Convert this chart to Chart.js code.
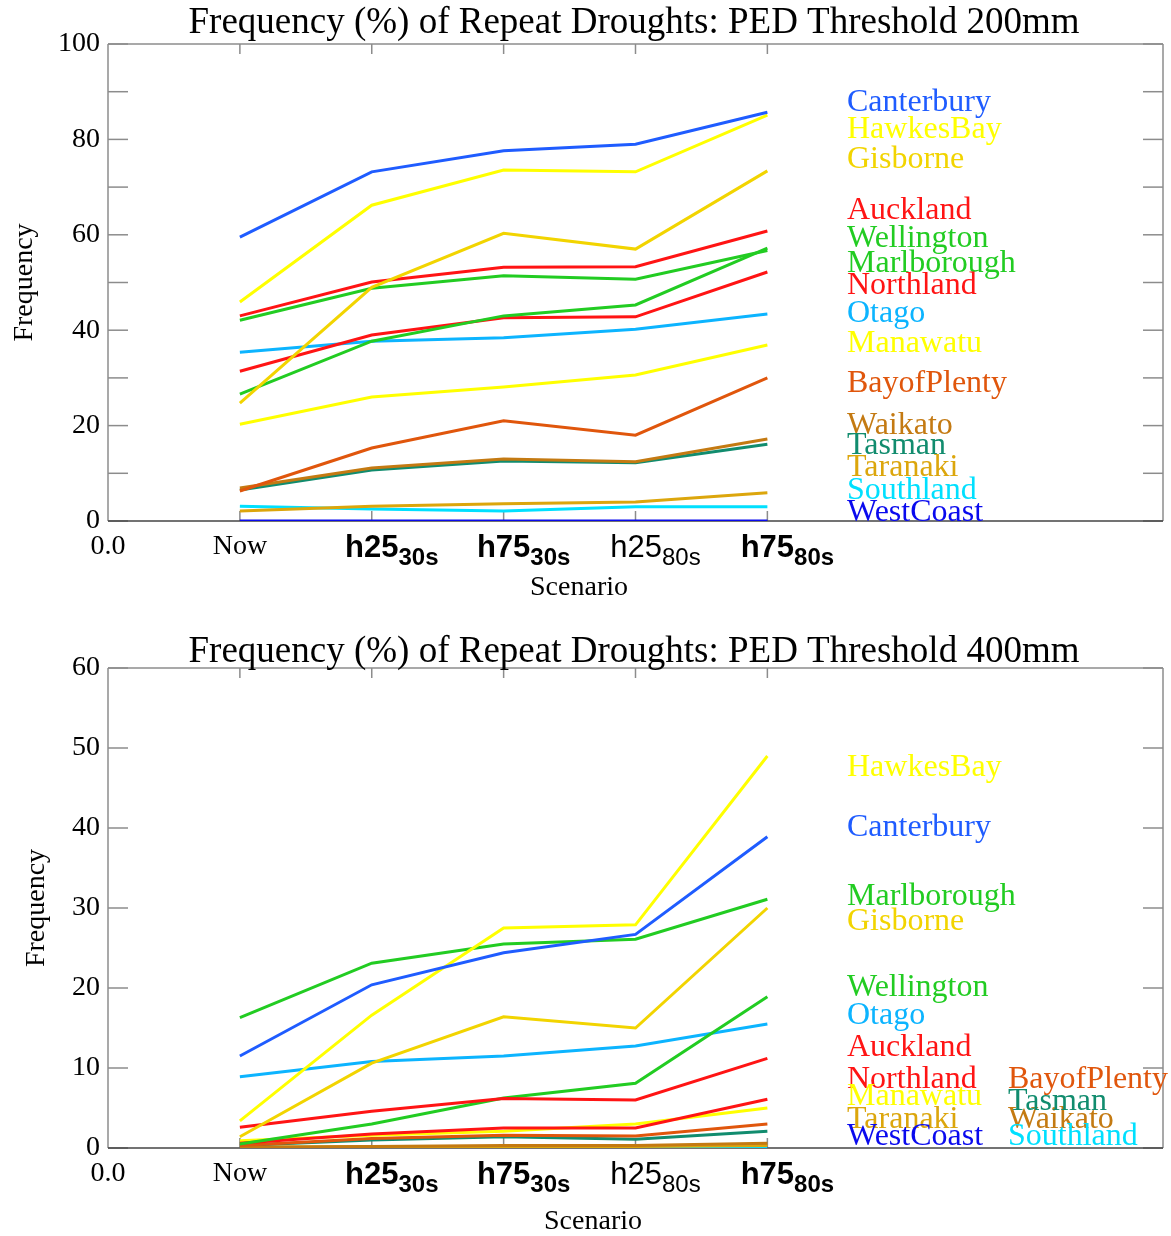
<!DOCTYPE html>
<html><head><meta charset="utf-8">
<script src="https://cdn.jsdelivr.net/npm/chart.js@4.4.1/dist/chart.umd.min.js"></script>
<style>
html,body{margin:0;padding:0;background:#fff;}
#wrap{position:relative;width:1171px;height:1236px;overflow:hidden;}
canvas{position:absolute;left:0;}
</style></head><body>
<div id="wrap">
<canvas id="c1" width="1171" height="615" style="top:0"></canvas>
<canvas id="c2" width="1171" height="621" style="top:615px"></canvas>
</div>
<script>
// ---------- categories ----------
const scenarios = ['Now', 'h25', 'h75', 'h25', 'h75'];
const scenarioSubs = ['', '30s', '30s', '80s', '80s'];
const scenarioBold = [false, true, true, false, true];
const scenarioX = [1, 2, 3, 4, 5];
const originLabel = '0.0';

const regions = ['Canterbury','HawkesBay','Gisborne','Auckland','Wellington','Marlborough','Northland','Otago','Manawatu','BayofPlenty','Waikato','Tasman','Taranaki','Southland','WestCoast'];
const regionColors = ['#1f5cff','#ffff00','#f2d400','#ff1414','#22cc22','#22cc22','#ff1414','#0cb4ff','#ffff00','#e0560c','#c47a12','#118c6e','#dca60c','#00e0ff','#0a0aee'];

// ---------- PED threshold 200mm ----------
const canterbury200  = [59.5, 73.2, 77.6, 79.0, 85.7];
const hawkesBay200   = [45.9, 66.2, 73.6, 73.2, 85.1];
const gisborne200    = [24.7, 49.0, 60.3, 57.0, 73.4];
const auckland200    = [43.0, 50.1, 53.2, 53.3, 60.8];
const wellington200  = [42.1, 48.8, 51.4, 50.7, 56.7];
const marlborough200 = [26.6, 37.7, 43.0, 45.3, 57.2];
const northland200   = [31.4, 39.0, 42.6, 42.8, 52.2];
const otago200       = [35.4, 37.7, 38.4, 40.2, 43.4];
const manawatu200    = [20.3, 26.0, 28.1, 30.6, 36.9];
const bayOfPlenty200 = [6.3, 15.3, 21.0, 18.0, 30.0];
const waikato200     = [6.9, 11.1, 13.0, 12.4, 17.2];
const tasman200      = [6.5, 10.7, 12.6, 12.2, 16.1];
const taranaki200    = [2.1, 3.1, 3.6, 4.0, 5.9];
const southland200   = [3.1, 2.5, 2.1, 3.0, 3.0];
const westCoast200   = [0, 0, 0, 0, 0];

// ---------- PED threshold 400mm ----------
const canterbury400  = [11.5, 20.4, 24.4, 26.7, 38.9];
const hawkesBay400   = [3.4, 16.6, 27.5, 27.9, 49.0];
const gisborne400    = [1.4, 10.6, 16.4, 15.0, 30.0];
const auckland400    = [2.6, 4.6, 6.2, 6.0, 11.2];
const wellington400  = [0.5, 3.0, 6.25, 8.1, 18.9];
const marlborough400 = [16.3, 23.1, 25.5, 26.1, 31.1];
const northland400   = [0.6, 1.75, 2.5, 2.5, 6.1];
const otago400       = [8.9, 10.8, 11.5, 12.75, 15.5];
const manawatu400    = [0.9, 1.6, 2.1, 3.0, 5.0];
const bayOfPlenty400 = [0.3, 1.2, 1.6, 1.5, 3.0];
const waikato400     = [0.1, 0.2, 0.3, 0.3, 0.6];
const tasman400      = [0.3, 1.0, 1.4, 1.1, 2.1];
const taranaki400    = [0.1, 0.2, 0.2, 0.2, 0.3];
const southland400   = [0, 0, 0, 0, 0];
const westCoast400   = [0, 0, 0, 0, 0];

// ---------- label anchors (value units) ----------
const labelY200 = [87.8, 82.0, 75.7, 65.0, 59.3, 53.9, 49.3, 43.4, 37.1, 28.9, 20.1, 15.9, 11.1, 6.3, 1.7];
const labelY400 = [40.1, 47.5, 28.25, 12.6, 20.0, 31.4, 8.5, 16.6, 6.4, 8.5, 3.5, 5.75, 3.5, 1.4, 1.4];
const labelCol400 = [0,0,0,0,0,0,0,0,0,1,1,1,0,1,0];

const series200 = [canterbury200, hawkesBay200, gisborne200, auckland200, wellington200, marlborough200, northland200, otago200, manawatu200, bayOfPlenty200, waikato200, tasman200, taranaki200, southland200, westCoast200];
const series400 = [canterbury400, hawkesBay400, gisborne400, auckland400, wellington400, marlborough400, northland400, otago400, manawatu400, bayOfPlenty400, waikato400, tasman400, taranaki400, southland400, westCoast400];

const SERIF = '"Liberation Serif", "Times New Roman", serif';
const SANS = '"Liberation Sans", Arial, sans-serif';

function makeDatasets(series) {
  return regions.map((name, i) => ({
    label: name,
    data: series[i].map((v, k) => ({ x: scenarioX[k], y: v })),
    borderColor: regionColors[i],
    backgroundColor: regionColors[i],
    borderWidth: 3,
    pointRadius: 0,
    tension: 0,
    fill: false
  }));
}

function line(ctx, x1, y1, x2, y2) {
  ctx.beginPath(); ctx.moveTo(x1, y1); ctx.lineTo(x2, y2); ctx.stroke();
}

function makeDecor(cfg) {
  return {
    id: 'decor',
    beforeDatasetsDraw(chart) {
      const { ctx, chartArea: a, scales: { x, y } } = chart;
      ctx.save();
      ctx.strokeStyle = '#8c8c8c';
      ctx.lineWidth = 1.5;
      line(ctx, a.left, a.top, a.right, a.top);
      line(ctx, a.left, a.top, a.left, a.bottom);
      line(ctx, a.right, a.top, a.right, a.bottom);
      for (let v = y.min; v <= y.max + 1e-9; v += cfg.minorStep) {
        const py = y.getPixelForValue(v);
        line(ctx, a.left, py, a.left + 20, py);
        line(ctx, a.right - 20, py, a.right, py);
      }
      for (const sx of scenarioX) {
        const px = x.getPixelForValue(sx);
        line(ctx, px, a.top, px, a.top + 10);
        line(ctx, px, a.bottom - 10, px, a.bottom);
      }
      ctx.strokeStyle = '#444';
      line(ctx, a.left, a.bottom, a.right, a.bottom);
      ctx.restore();
    },
    afterDatasetsDraw(chart) {
      const { ctx, chartArea: a, scales: { x, y } } = chart;
      ctx.save();
      ctx.fillStyle = '#000';
      // title
      ctx.font = '37px ' + SERIF;
      ctx.textAlign = 'center';
      ctx.textBaseline = 'alphabetic';
      ctx.fillText(cfg.title, cfg.titleX, a.top - cfg.titleGap);
      // x labels
      ctx.font = '28px ' + SERIF;
      ctx.fillText(originLabel, x.getPixelForValue(0), a.bottom + 33);
      scenarios.forEach((s, i) => {
        const px = x.getPixelForValue(scenarioX[i]);
        if (!scenarioSubs[i]) {
          ctx.font = '28px ' + SERIF;
          ctx.textAlign = 'center';
          ctx.fillText(s, px, a.bottom + 33);
          return;
        }
        const w = scenarioBold[i] ? 'bold ' : '';
        ctx.font = w + '31px ' + SANS;
        const w1 = ctx.measureText(s).width;
        ctx.font = w + '24px ' + SANS;
        const w2 = ctx.measureText(scenarioSubs[i]).width;
        const start = px + cfg.subShift - (w1 + w2) / 2;
        ctx.textAlign = 'left';
        ctx.font = w + '31px ' + SANS;
        ctx.fillText(s, start, a.bottom + 36);
        ctx.font = w + '24px ' + SANS;
        ctx.fillText(scenarioSubs[i], start + w1, a.bottom + 44);
      });
      // axis titles
      ctx.font = '28px ' + SERIF;
      ctx.textAlign = 'center';
      ctx.fillText('Scenario', cfg.scenX, a.bottom + cfg.scenGap);
      ctx.save();
      ctx.translate(cfg.freqX, (a.top + a.bottom) / 2);
      ctx.rotate(-Math.PI / 2);
      ctx.font = '28px ' + SERIF;
      ctx.textBaseline = 'middle';
      ctx.fillText('Frequency', 0, 0);
      ctx.restore();
      // region labels
      ctx.font = '32px ' + SERIF;
      ctx.textAlign = 'left';
      ctx.textBaseline = 'middle';
      regions.forEach((r, i) => {
        const col = cfg.labelCol ? cfg.labelCol[i] : 0;
        ctx.fillStyle = regionColors[i];
        ctx.fillText(r, cfg.labelX[col], y.getPixelForValue(cfg.labelY[i]));
      });
      ctx.restore();
    }
  };
}

function makeChart(id, series, yMax, yStep, padBottom, cfg) {
  return new Chart(document.getElementById(id), {
    type: 'line',
    data: { datasets: makeDatasets(series) },
    options: {
      responsive: false,
      animation: false,
      devicePixelRatio: 1,
      layout: { padding: { left: 0, top: cfg.padTop, right: 8, bottom: padBottom } },
      plugins: { legend: { display: false }, tooltip: { enabled: false }, title: { display: false } },
      scales: {
        x: { type: 'linear', min: 0, max: 8, display: false },
        y: {
          min: 0, max: yMax,
          ticks: { stepSize: yStep, color: '#000', padding: 8, font: { family: SERIF, size: 28 } },
          grid: { display: false, drawTicks: false },
          border: { display: false },
          afterFit: (s) => { s.width = 108; }
        }
      }
    },
    plugins: [makeDecor(cfg)]
  });
}

makeChart('c1', series200, 100, 20, 94, {
  padTop: 44, minorStep: 10,
  title: 'Frequency (%) of Repeat Droughts: PED Threshold 200mm', titleX: 634, titleGap: 11,
  subShift: 20, scenX: 579, scenGap: 74, freqX: 25,
  labelX: [847], labelY: labelY200
});
makeChart('c2', series400, 60, 10, 88, {
  padTop: 53, minorStep: 10,
  title: 'Frequency (%) of Repeat Droughts: PED Threshold 400mm', titleX: 634, titleGap: 6,
  subShift: 20, scenX: 593, scenGap: 81, freqX: 37,
  labelX: [847, 1008], labelY: labelY400, labelCol: labelCol400
});
</script>
</body></html>
